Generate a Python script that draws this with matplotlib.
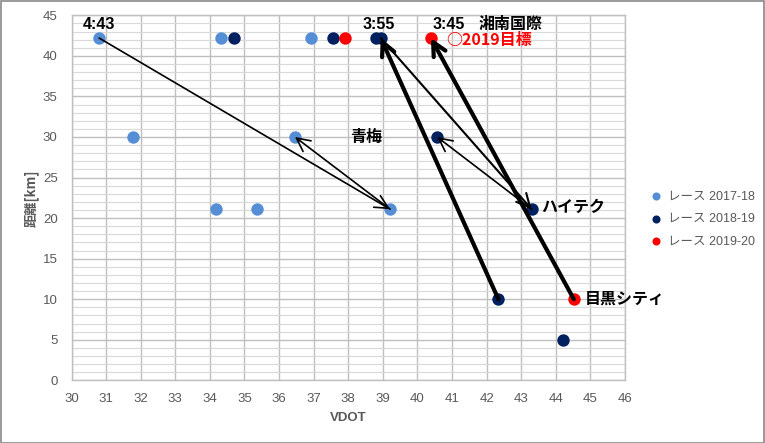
import matplotlib
matplotlib.use("Agg")
import matplotlib.pyplot as plt
from matplotlib.patches import Rectangle
from matplotlib.ticker import MultipleLocator, NullLocator

# ---- data ----
vdot_1718 = [30.80, 31.79, 34.31, 34.18, 35.37, 36.46, 36.93, 39.21]
dist_1718 = [42.195, 30.0, 42.195, 21.0975, 21.0975, 30.0, 42.195, 21.0975]
vdot_1819 = [34.70, 37.57, 38.80, 38.94, 40.57, 43.30, 42.34, 44.21]
dist_1819 = [42.195, 42.195, 42.195, 42.195, 30.0, 21.0975, 10.0, 5.0]
vdot_1920 = [37.92, 40.39, 44.52]
dist_1920 = [42.195, 42.195, 10.0]
series_names = ["レース 2017-18", "レース 2018-19", "レース 2019-20"]
x_ticks = list(range(30, 47))
y_ticks = list(range(0, 46, 5))

# arrows: (series, index) -> (series, index), line width
arrows = [
    ((0, 0), (0, 7), 1.2),
    ((0, 7), (0, 5), 1.2),
    ((1, 3), (1, 5), 1.5),
    ((1, 5), (1, 4), 1.2),
    ((1, 6), (1, 3), 3.0),
    ((2, 2), (2, 1), 3.0),
]

xs = [vdot_1718, vdot_1819, vdot_1920]
ys = [dist_1718, dist_1819, dist_1920]
colors = ["#558ED5", "#002060", "#FF0000"]

W, H = 765, 443
fig = plt.figure(figsize=(W / 100, H / 100), dpi=100)
ax = fig.add_axes([71.5 / W, 1 - 380.3 / H, (625 - 71.5) / W, (380.3 - 15.3) / H])

gray = "#595959"
jp = ["Liberation Sans", "Noto Sans CJK JP"]
cjk = ["Noto Sans CJK JP", "Liberation Sans"]

for i in range(3):
    ax.scatter(xs[i], ys[i], s=80, color=colors[i], label=series_names[i],
               zorder=3, linewidths=0)

for (sa, ia), (sb, ib), lw in arrows:
    ax.annotate("", xy=(xs[sb][ib], ys[sb][ib]), xytext=(xs[sa][ia], ys[sa][ia]),
                arrowprops=dict(arrowstyle="->,head_length=0.8,head_width=0.4",
                                lw=lw, color="black", shrinkA=0, shrinkB=0,
                                mutation_scale=12),
                zorder=4)

ax.set_xlim(30, 46)
ax.set_ylim(0, 45)
ax.set_xticks(x_ticks)
ax.set_yticks(y_ticks)
ax.xaxis.set_minor_locator(NullLocator())
ax.yaxis.set_minor_locator(MultipleLocator(1))
ax.grid(which="major", color="#bfbfbf", lw=1.0, zorder=0)
ax.grid(which="minor", axis="y", color="#d9d9d9", lw=0.8, zorder=0)
ax.set_axisbelow(True)
for sp in ax.spines.values():
    sp.set_color("#bfbfbf")
    sp.set_linewidth(1.0)
ax.tick_params(which="both", length=0, colors=gray, labelsize=9.5)
ax.tick_params(axis="x", pad=9)
ax.tick_params(axis="y", pad=10)
for lab in ax.get_xticklabels() + ax.get_yticklabels():
    lab.set_family(jp)

ax.set_xlabel("VDOT", color=gray, fontsize=9.5, fontweight="bold", family=jp, labelpad=5)
ax.set_ylabel("距離[km]", color=gray, fontsize=9.5, fontweight="bold", family=cjk, labelpad=3)

# annotations
tk = dict(fontsize=11.5, fontweight="bold", family=jp, color="black",
          textcoords="offset points", zorder=5)
ax.annotate("4:43", (xs[0][0], ys[0][0]), xytext=(0, 10), ha="center", va="center", **tk)
ax.annotate("3:55", ((xs[1][2] + xs[1][3]) / 2, ys[1][2]), xytext=(0, 10), ha="center", va="center", **tk)
ax.annotate("3:45", (xs[2][1], ys[2][1]), xytext=(13, 10), ha="center", va="center", **tk)
ax.annotate("湘南国際", (xs[2][1], ys[2][1]), xytext=(34, 10), ha="left", va="center", **tk)
tr = dict(tk)
tr["color"] = "#FF0000"
tr["family"] = cjk
ax.annotate("○2019目標", (xs[2][1], ys[2][1]), xytext=(11, -1.5), ha="left", va="center", **tr)
ax.annotate("青梅", ((xs[0][5] + xs[1][4]) / 2, ys[0][5]), xytext=(0, 0), ha="center", va="center", **tk)
ax.annotate("ハイテク", (xs[1][5], ys[1][5]), xytext=(7, 1.5), ha="left", va="center", **tk)
ax.annotate("目黒シティ", (xs[2][2], ys[2][2]), xytext=(8, 0), ha="left", va="center", **tk)

leg = fig.legend(loc="center left", bbox_to_anchor=(640 / W, 1 - 219 / H), frameon=False,
                 markerscale=0.65, handlelength=0.8, handletextpad=0.5,
                 labelspacing=0.85, prop={"family": jp, "size": 9})
for t in leg.get_texts():
    t.set_color(gray)

fig.add_artist(Rectangle((0.5 / W, 0.5 / H), 1 - 1.5 / W, 1 - 1.5 / H, transform=fig.transFigure,
                         fill=False, edgecolor="#888888", lw=1.2))

fig.savefig("out.png", dpi=100)
